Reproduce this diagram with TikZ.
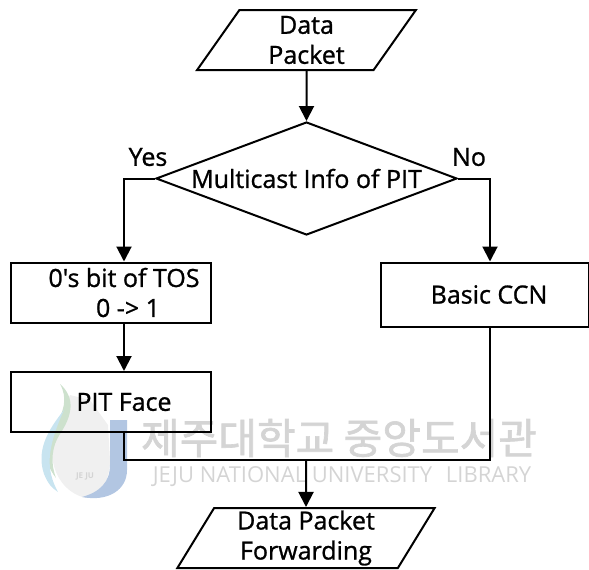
\documentclass[tikz,border=0pt]{standalone}
\usepackage{fontspec}
\setmainfont{Open Sans}
\newfontfamily\labfont[FakeBold=1]{Open Sans}
\newfontfamily\krfont[FakeBold=1.5]{Noto Sans CJK KR}
\newfontfamily\wmfont{Open Sans}
\usetikzlibrary{shapes.geometric,arrows.meta}
\newcommand{\boldtext}{\labfont\fontsize{25}{30}\selectfont}
\definecolor{wmj}{RGB}{178,198,226}
\definecolor{wmg}{RGB}{205,225,205}
\definecolor{wmc}{RGB}{200,228,240}
\tikzset{
  x=1pt,y=-1pt,
  line/.style={line width=2pt,black,line join=miter},
  arrowline/.style={line width=2pt,-{Triangle[length=15pt,width=15pt]}},
  box/.style={draw,line width=2pt,rectangle,minimum width=200pt,minimum height=60pt,inner sep=0pt,align=center,font=\boldtext},
  iobox/.style={draw,line width=2pt,trapezium,trapezium left angle=63.4,trapezium right angle=116.6,trapezium stretches=true,inner sep=0pt,align=center,minimum height=60pt,font=\boldtext},
  dec/.style={draw,line width=2pt,diamond,minimum width=301pt,minimum height=113pt,inner sep=0pt,aspect=2.66},
  lab/.style={font=\boldtext,inner sep=0pt},
  wmk/.style={text=black!17,inner sep=0pt},
}
\begin{document}
\begin{tikzpicture}
\useasboundingbox (0,0) rectangle (589,570);
% watermark
\node[wmk,font=\krfont\fontsize{42}{44}\selectfont] (wmkr) at (339,438) {제주대학교 중앙도서관};
\node[wmk,font=\wmfont\fontsize{22}{24}\selectfont] (wmen) at (342,477) {JEJU NATIONAL UNIVERSITY\hspace{8pt} LIBRARY};
\fill[black!6] (56,425) .. controls (46,450) and (52,490) .. (86,498) .. controls (100,498) and (110,480) .. (110,460) -- (108,425) -- (90,400) -- (70,395) -- cycle;
\fill[wmj] (110,420) -- (127,420) -- (127,470) .. controls (127,490) and (108,502) .. (82,497) .. controls (100,492) and (110,482) .. (110,465) -- cycle;
\fill[wmg] (60,384) .. controls (76,398) and (72,416) .. (60,434) .. controls (52,446) and (50,462) .. (56,478) .. controls (42,460) and (44,442) .. (54,428) .. controls (64,412) and (68,398) .. (60,384) -- cycle;
\fill[wmc] (64,410) .. controls (48,430) and (36,450) .. (44,474) .. controls (48,484) and (52,488) .. (58,492) .. controls (46,470) and (46,450) .. (64,410) -- cycle;
\node[wmk,font=\wmfont\bfseries\fontsize{8}{9}\selectfont] (wmlogo) at (85,476) {JE JU};
% nodes
\node[iobox,minimum width=219pt] (in) at (306.5,40) {Data\\Packet};
\node[dec,label={[lab]center:Multicast Info of PIT}] (d) at (306.5,178.5) {};
\node[box] (tos) at (111,292.5) {\hspace*{26pt}0's bit of TOS\\\hspace*{34pt}0 -> 1};
\node[box] (pit) at (111,402) {\hspace*{26pt}PIT Face};
\node[box,minimum width=208pt,minimum height=64pt] (ccn) at (485,294.5) {\hspace*{8pt}Basic CCN};
\node[iobox,minimum width=258pt] (out) at (306,538) {Data Packet\\Forwarding};
\node[lab] (yes) at (148,157) {Yes};
\node[lab] (no) at (469,157) {No};
\coordinate (join) at (306,460);
% connectors
\draw[arrowline] (in.south) -- (d.north);
\draw[arrowline] (d.west) -| (tos.north -| 124,0);
\draw[arrowline] (d.east) -| (ccn.north -| 490,0);
\draw[arrowline] (tos.south -| 124,0) -- (pit.north -| 124,0);
\draw[line] (pit.south -| 124,0) |- (join);
\draw[line] (ccn.south -| 490,0) |- (join);
\draw[arrowline] (join) -- (out.north);
\end{tikzpicture}
\end{document}
